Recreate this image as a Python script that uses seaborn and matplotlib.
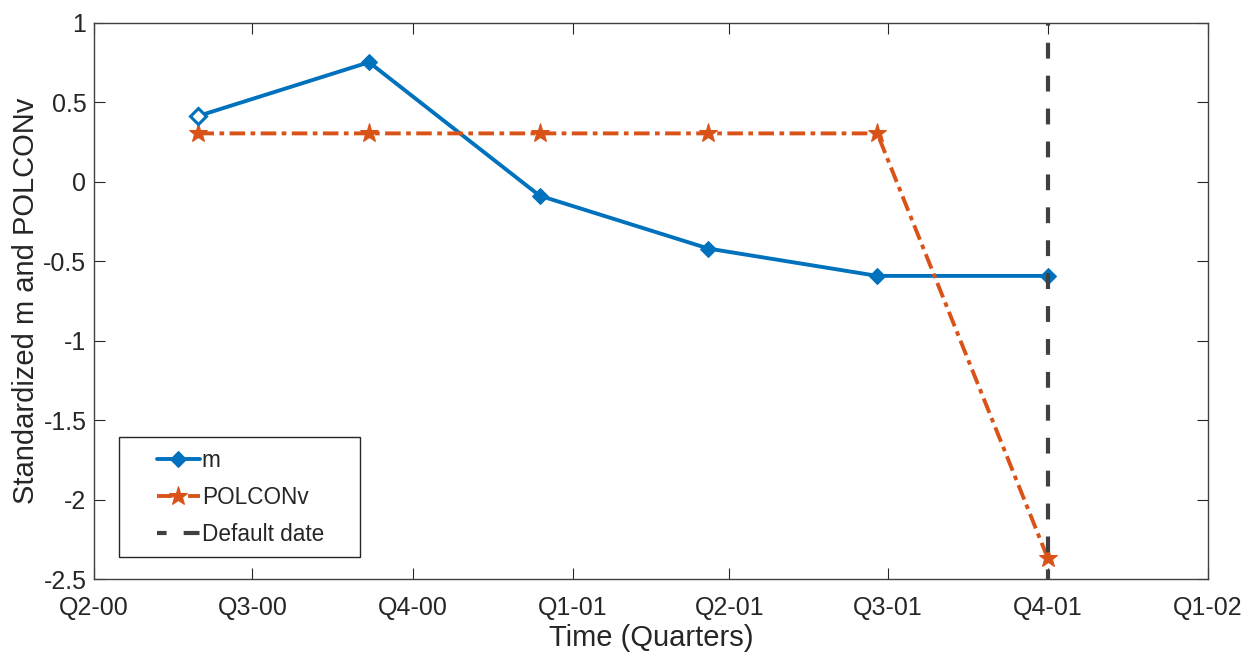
import pandas as pd
import seaborn as sns
import matplotlib.pyplot as plt
import matplotlib.dates as mdates
from matplotlib.lines import Line2D
from matplotlib.legend_handler import HandlerLine2D
import numpy as np

obs_dates = ['2000-05-31', '2000-09-06', '2000-12-13', '2001-03-20', '2001-06-25', '2001-10-01']
m_vals = [0.415, 0.753, -0.087, -0.42, -0.592, -0.592]
polconv_vals = [0.305, 0.305, 0.305, 0.305, 0.305, -2.37]
default_date = '2001-10-01'

quarter_ticks = ['2000-04-01', '2000-07-01', '2000-10-01', '2001-01-01',
                 '2001-04-01', '2001-07-01', '2001-10-01', '2002-01-01']
quarter_labels = ['Q2-00', 'Q3-00', 'Q4-00', 'Q1-01', 'Q2-01', 'Q3-01', 'Q4-01', 'Q1-02']
y_ticks = [1, 0.5, 0, -0.5, -1, -1.5, -2, -2.5]

df = pd.DataFrame({'date': pd.to_datetime(obs_dates), 'm': m_vals, 'POLCONv': polconv_vals})

sns.set_theme(style='ticks')
plt.rcParams['font.family'] = ['Liberation Sans', 'DejaVu Sans']
plt.rcParams['axes.unicode_minus'] = False

fig = plt.figure(figsize=(12.47, 6.53), dpi=100)
ax = fig.add_axes([0.0754, 0.1133, 0.8933, 0.8515])

blue = '#0072BD'
orange = '#D95319'

sns.lineplot(data=df, x='date', y='m', ax=ax, color=blue, linewidth=2.8,
             marker='D', markersize=8, markeredgecolor=blue, label='m')
sns.lineplot(data=df, x='date', y='POLCONv', ax=ax, color=orange, linewidth=2.8,
             linestyle=(0, (4, 1.4, 1.2, 1.4)), marker='*', markersize=14,
             markeredgecolor=orange, label='POLCONv')
# first m marker is drawn hollow in the original
ax.plot(df['date'].iloc[:1], df['m'].iloc[:1], linestyle='none', marker='D', markersize=8,
        markerfacecolor='white', markeredgecolor=blue, markeredgewidth=2.2)
ax.axvline(pd.Timestamp(default_date), color='#404040', linewidth=3,
           linestyle=(1.5, (3.8, 4.1)), label='Default date')

ax.set_xlim(pd.Timestamp(quarter_ticks[0]), pd.Timestamp(quarter_ticks[-1]))
ax.set_ylim(-2.5, 1)
ax.set_xticks([mdates.date2num(pd.Timestamp(d)) for d in quarter_ticks])
ax.set_xticklabels(quarter_labels)
ax.set_yticks(y_ticks)
ax.set_yticklabels([f'{v:g}' for v in y_ticks])

ax.tick_params(axis='both', direction='in', length=8, width=0.8, labelsize=18,
               top=True, right=True, colors='#262626', labelcolor='#262626')
ax.tick_params(axis='x', pad=12)
ax.tick_params(axis='y', pad=5.5)
for s in ax.spines.values():
    s.set_visible(True)
    s.set_color('#404040')
    s.set_linewidth(1.0)

ax.set_xlabel('Time (Quarters)', fontsize=21, color='#262626', labelpad=3)
ax.set_ylabel('Standardized m and POLCONv', fontsize=21, color='#262626', labelpad=2)

# legend: fixed-width frame, handles nudged right as in the original
leg = ax.legend(loc='lower left', bbox_to_anchor=(0.0224, 0.0396, 0.2163, 0.2),
                mode='expand', borderaxespad=0,
                fontsize=16.3, frameon=True, fancybox=False, framealpha=1,
                edgecolor='#262626', handlelength=3.06, handletextpad=0.1,
                borderpad=0.5, labelspacing=0.62,
                handler_map={Line2D: HandlerLine2D(xpad=1.17)})
leg.get_frame().set_linewidth(1.0)

fig.savefig('out.png', dpi=100)
